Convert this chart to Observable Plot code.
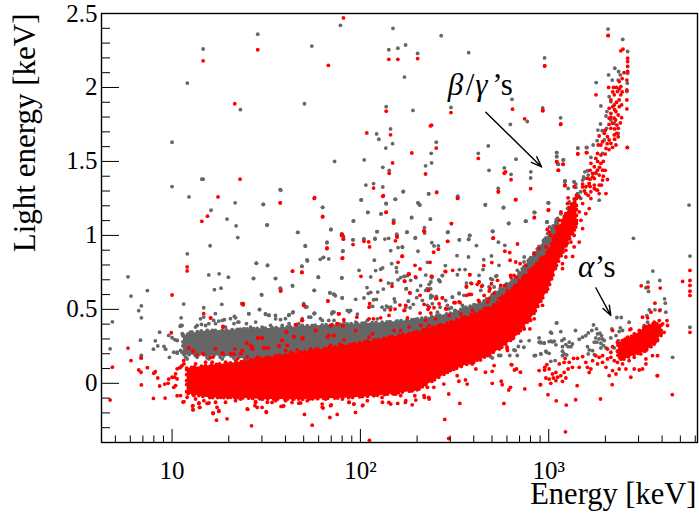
<!DOCTYPE html>
<html><head><meta charset="utf-8">
<script src="https://cdn.jsdelivr.net/npm/d3@7"></script>
<script src="https://cdn.jsdelivr.net/npm/@observablehq/plot@0.6"></script>
<style>html,body{margin:0;padding:0;background:#fff}svg{display:block}</style>
</head><body><div id="chart"></div>
<script>
// every point is [log10(energy / keV), light energy / keV]
const grayScatter = [
[1.894,2.42],[1.455,2.36],[1.165,2.26],[1.742,2.28],[1.081,2.03],[1.703,1.89],[1.363,1.85],[1,1.63],[1.863,1.5],[1,1.33],[1.158,1.38],[1.165,1.38],[1.574,1.31],[1.09,1.26],[1.335,1.22],[1.485,1.21],[1.799,1.19],[1.207,1.17],[1.292,1.11],[1.34,1.065],[1.503,1.07],[1.668,1.02],[1.843,1.04],[1.9,1.01],[1.349,.985],[1.202,.93],[1.081,.875],[1.707,.93],[1.822,.95],[1.908,.895],[1.802,.85],[1.717,.835],
[2.173,2.4],[2.151,2.255],[2.199,2.265],[2.24,2.287],[2.304,2.23],[2.429,2.35],[2.575,2.235],[2.234,2.07],[2.978,2.2],[3.315,2.395],[3.393,2.325],[2.137,1.87],[2.279,1.845],[2.481,1.865],[2.805,1.92],[2.968,1.862],[3.063,1.795],[2.886,1.77],[2.796,1.75],[2.16,1.72],[2.086,1.686],[2.098,1.65],[2.171,1.62],[2.135,1.59],[2.403,1.63],[2.376,1.555],[2.679,1.605],[2.626,1.555],[2.02,1.51],[2.378,1.49],[2.346,1.47],[2.119,1.46],[2.153,1.44],[2.826,1.515],[2.683,1.44],[2.764,1.456],[2.8,1.413],[2.904,1.388],[3.042,1.56],[3.042,1.533],[3.076,1.51],[3.049,1.48],[3.154,1.59],[3.2,1.595],[2.029,1.34],[2.07,1.35],[2.119,1.327],[2.227,1.295],[2.362,1.28],[2.405,1.293],[2.516,1.26],[2.004,1.24],[2.185,1.244],[2.137,1.214],[2.306,1.22],[2.316,1.205],[2.732,1.318],[2.663,1.205],[2.759,1.187],[2.923,1.156],[2.998,1.22],[3.085,1.363],[2.04,1.156],[2.109,1.145],[2.272,1.12],[2.371,1.11],[2.176,1.1],[1.962,1.097],[2.877,1.095],[2.787,1.08],[2.99,1.09],[2.089,1.025],[2.247,1.02],[2.341,1.016],[2.463,1.02],[2.704,1.027],[2.194,1],[2.58,1],[1.96,.97],[2.018,.975],[2.077,.975],[2.13,.975],[2.291,.98],[2.525,.97],[2.575,.973],[3.45,.98],[3.745,1.205],[3.75,.86],
[1.577,1.306],[1.484,1.209],[1.8,1.19],[1.506,1.071],[1.667,1.021],[1.844,1.04],[1.964,1.098],[2.005,1.24],[2.039,1.155],[2.11,1.146],[2.136,1.216],[2.186,1.245],[2.228,1.297],[2.177,1.103],[2.088,1.026],[2.193,1.008],[2.15,.98],[2.078,.979],[2.019,.976],[1.961,.97],[1.91,.994],[1.823,.954],[1.708,.927],[1.906,.893],[2.2,.918],[2.223,.92],[2.161,.897],[1.805,.852],[1.787,.838],[1.832,.841],[1.718,.83],[1.69,.791],[1.447,.811],[1.507,.796],[2.074,.832],[2.166,.809],[2.191,.782],[2.193,.753],[2.118,.78],[2.108,.771],[2.081,.762],[1.993,.764],[2.055,.719],[1.777,.717],[1.901,.712],[1.433,.71],[1.55,.71],[2.2,.7],[2.234,.723],[2.25,.728],[2.149,.678],[2.168,.674],[2.035,.647],[2.244,.64],[1.577,.64],[1.64,.658],[1.755,.628],[2.122,.637],[2.042,.608],[2.055,.615],[2.092,.617],[1.839,.61],[1.86,.601],[1.867,.592],[1.476,.597],[1.904,.577],[1.975,.568],[2.019,.577],[2.07,.565],[2.085,.567],[2.18,.57],[2.184,.55],[2.255,.556],[1.378,.538],[1.699,.538],[1.716,.516],[1.465,.5],[1.408,.47],[1.497,.466],[1.515,.461],[1.621,.464],[1.64,.477],[1.757,.473],[1.848,.47],[1.858,.48],[1.94,.484],[1.948,.493],[1.984,.468],[2.065,.52],[2.115,.515],[2.138,.522],[2.145,.515],[2.161,.515],[2.129,.497],
[2.363,1.283],[2.306,1.22],[2.313,1.207],[2.272,1.121],[2.372,1.11],[2.517,1.265],[2.664,1.207],[2.761,1.189],[3,1.22],[2.924,1.155],[2.992,1.091],[2.878,1.096],[2.788,1.082],[2.34,1.053],[2.248,1.024],[2.466,1.024],[2.292,.985],[2.581,1],[2.575,.974],[2.526,.97],[2.701,1.028],[2.733,.954],[2.767,.933],[2.616,.931],[2.379,.951],[2.391,.929],[2.414,.929],[2.223,.922],[2.306,.893],[2.513,.863],[2.574,.854],[2.696,.861],[2.655,.836],[2.356,.818],[2.451,.796],[2.736,.798],[2.526,.769],[2.556,.769],[2.651,.769],[2.256,.741],[2.232,.723],[2.214,.714],[2.347,.732],[2.435,.728],[2.581,.735],[2.295,.714],[2.267,.696],[2.379,.714],[2.365,.669],[2.32,.66],[2.416,.7],[2.423,.687],[2.724,.728],[2.701,.701],[2.242,.638],[2.303,.628],[2.347,.628],[2.373,.64],[2.382,.588],[2.373,.577],[2.403,.588],[2.255,.556],[2.299,.579],[2.329,.561],[2.488,.583],[2.524,.606],[2.55,.595],[2.281,.534],[2.264,.511],[2.241,.515],[2.356,.527],[2.382,.538],[2.423,.515],[2.462,.527],[2.483,.511],[2.542,.527],[2.501,.493],[2.621,.527],[2.657,.538],[2.692,.583],[2.728,.583],[2.745,.595],[2.639,.628],[2.71,.651],[2.683,.651],[2.834,.764],[2.869,.82],[2.896,.836],[2.922,.877],[2.958,.911],[2.976,.945],[3.046,1.08],[3.064,1.148],[3.1,1.182],
[.766,.72],[.782,.59],[.869,.627],[.837,.523],[.823,.491],[.837,.443],[.683,.416],[.671,.233],[.832,.292],[.911,.287],[.924,.253],[.901,.231],[.837,.188],[.837,.172],[.934,.346],[.957,.249],[.966,.231],[.986,.176],[.982,.324],[1,.308],[1.014,.296],[1.027,.29],[1.009,.21],[1.027,.204],[1.053,.21],[1.048,.443],[1.062,.536],[1.053,.391],[1.044,.385],[1.058,.33],[1.195,.733],[1.25,.74],[1.299,.717],[1.225,.633],[1.26,.643],[1.168,.511],[1.264,.534],[1.37,.538],[1.448,.812],[1.507,.799],[1.432,.708],[1.549,.708],[1.574,.643],[1.639,.661],[1.475,.6],[1.755,.629],[1.776,.717],[1.902,.713],[1.838,.613],[1.859,.602],[1.903,.577],[1.719,.828],[1.689,.792],[1.464,.498],[1.407,.471],[1.23,.471],[1.168,.448],[1.337,.443],[1.708,.516],
[1.097,.346],[1.133,.391],[1.156,.398],[1.195,.403],[1.221,.425],[1.248,.421],[1.278,.43],[1.31,.437],[1.331,.452],[1.349,.414],[1.395,.403],[1.434,.369],[1.478,.38],[1.496,.471],[1.514,.459],[1.549,.459],[1.576,.43],[1.602,.437],[1.62,.459],[1.643,.482],[1.673,.403],[1.691,.437],[1.726,.448],[1.756,.475],[1.788,.437],[1.832,.425],[1.859,.482],[1.939,.489],[1.08,.165],[1.133,.176],[1.186,.172],[1.257,.176],[1.328,.172],[1.398,.154],
[2.691,.181],[2.735,.188],[2.779,.233],[2.815,.226],[2.833,.188],[2.868,.244],[2.93,.188],[2.957,.278],[3.041,.407],[3.01,.346]
];
const grayEdges = [
[1.045,.391],[1.027,.29],[1.054,.335],[1.089,.323],[1.125,.38],[1.151,.436],[1.178,.391],[1.205,.346],[1.231,.403],[1.267,.425],[1.284,.38],[1.329,.403],[1.355,.414],[1.382,.369],[1.417,.38],[1.444,.414],[1.479,.369],[1.523,.391],[1.55,.436],[1.585,.391],[1.621,.403],[1.656,.357],[1.692,.391],[1.072,.29],[1.107,.346],[1.187,.357],[1.249,.346],[1.346,.346],[1.391,.335],[1.461,.335],[1.506,.346],[1.55,.346],[1.603,.346],[1.045,.222],[1.027,.211],[1.125,.188],[1.072,.177],[1.196,.165],[1.267,.165],[1.337,.154],[1.408,.188],[1.479,.165],
[1.754,.47],[1.736,.447],[1.798,.425],[1.851,.481],[1.931,.493],[1.86,.425],[1.913,.414],[1.975,.414],[2.037,.425],[2.09,.436],[1.701,.368],[1.745,.38],[1.789,.357],[1.834,.38],[1.896,.357],[1.949,.368],[2.011,.38],[2.064,.346],[2.126,.402],[2.188,.414],[2.25,.425],[2.303,.436],[1.683,.289],[1.727,.3],[1.772,.3],[1.869,.323],[1.931,.335],[2.002,.323],[2.09,.368],[2.152,.368],[2.214,.38],[2.294,.368],[2.356,.425],[1.718,.267],[1.807,.267],[1.913,.244],
[2.515,.734],[2.436,.73],[2.418,.696],[2.374,.685],[2.356,.64],[2.524,.61],[2.563,.678],[2.586,.678],[2.63,.73],[2.648,.662],[2.692,.707],[2.719,.723],[2.489,.583],[2.374,.594],[2.453,.56],[2.56,.515],[2.613,.527],[2.409,.481],[2.471,.504],[2.506,.481],[2.374,.425],[2.418,.391],[2.498,.425],[2.577,.493],[2.657,.549],[2.701,.583],[2.772,.651],[2.843,.741],
[2.896,.289],[2.852,.285],[2.839,.249],[2.822,.222],[2.793,.188],[2.745,.188],[2.701,.172],[2.604,.195],[2.949,.278],[2.976,.271],[2.958,.199],[2.988,.21],[3.011,.149],[3.034,.154],[3.029,.285],[3.011,.285],
[2.905,1.43],[2.997,1.22],[2.926,1.154],[2.879,1.096],[2.99,1.091],[3.086,1.369],[3.086,1.339],[3.135,1.362],[3.144,1.324],[3.109,1.226],[3.135,1.215],[3.153,1.283],[3.047,1.102],[3.065,1.147],[3.038,1.091],[3.003,1.057],[2.994,1.012],[2.976,.971],[2.949,.922],[2.923,.876],[2.905,.831],[2.87,.854],[3.188,1.385],[3.25,1.423],[3.268,1.238]
];
const grayTopBand = [
[3.419,2.243],[3.351,2.13],[3.371,2.108],[3.38,2.085],[3.318,2.085],[3.337,2.05],[3.252,2.033],[3.369,2.05],[3.419,2.096],[3.417,2.029],[3.415,1.972],[3.321,1.938],[3.33,1.904],[3.277,1.875],[3.309,1.837],[3.304,1.807],[3.33,1.78],[3.348,1.758],[3.275,1.753],[3.261,1.712],[3.284,1.708],[3.307,1.724],[3.369,1.69],[3.257,1.64],[3.295,1.645],[3.236,1.611],[3.203,1.593],[3.155,1.59],[3.286,1.554],[3.224,1.527],[3.079,1.511],[3.043,1.559],[3.043,1.532],[3.052,1.482],[3.087,1.369],[3.103,1.317],[3.135,1.362],[3.144,1.347],[3.192,1.43],[3.206,1.437],[3.185,1.396],[3.21,1.408],[3.18,1.374],[3.17,1.295],[3.158,1.268],[3.17,1.25]
];
const grayAlpha = [
[3.553,.759],[3.59,.695],[3.527,.684],[3.516,.646],[3.53,.621],[3.615,.571],[3.619,.542],[3.622,.481],[3.592,.497],[3.564,.497],[3.534,.497],[3.521,.458],[3.362,.445],[3.385,.445],[3.427,.413],[3.043,.409],[3.238,.395],[3.254,.368],[3.229,.357],[3.335,.368],[3.38,.375],[3.392,.357],[3.374,.35],[3.142,.357],[3.064,.35],[3.015,.339],[3.21,.341],[3.197,.323],[3.18,.312],[3.162,.298],[3.082,.3],[3.07,.289],[2.949,.307],[2.958,.273],[2.976,.273],[3.002,.282],[3.02,.28],[3.038,.26],[3.109,.278],[3.126,.266],[3.103,.248],[3.118,.248],[3.073,.248],[3.091,.262],[2.985,.217],[3.002,.203],[2.958,.199],[3.073,.217],[3.082,.199],[3.096,.192],[3.073,.187],[2.923,.187],[3.658,.176],[3.75,.379],
[3.259,.334],[3.272,.339],[3.28,.323],[3.25,.307],[3.268,.3],[3.286,.3],[3.256,.278],[3.277,.271],[3.295,.289],[3.242,.278],[3.206,.248],[3.215,.226],[3.21,.199],[3.233,.221],[3.242,.194],[3.277,.239],[3.291,.255],[3.304,.239],[3.33,.307],[3.357,.323],[3.369,.289],[3.401,.255],[3.348,.239],[3.383,.248],[3.436,.289],[3.472,.312],[3.507,.391],[3.525,.413]
];
const redScatter = [
[1.91,2.47],[1.455,2.255],[1.165,2.18],[1.83,2.15],[1.333,1.89],[1.361,1.38],[1.244,1.26],[1.755,1.25],[1.574,1.22],[1.799,1.125],[1.188,1.13],[1.158,1.095],[1.9,1],[1.908,.975],[1.822,.91],[1.903,.845],
[2.151,2.19],[2.199,2.19],[2.304,2.195],[2.978,2.145],[3.315,2.35],[2.137,1.84],[2.481,1.83],[2.808,1.853],[2.968,1.842],[2.872,1.788],[3.063,1.75],[2.378,1.745],[2.372,1.74],[2.034,1.693],[2.16,1.68],[2.403,1.59],[2.273,1.557],[2.626,1.52],[3.154,1.55],[3.2,1.56],[3.418,1.594],[3.251,1.95],[2.171,1.49],[2.153,1.42],[2.346,1.415],[2.771,1.43],[2.764,1.42],[2.8,1.377],[2.904,1.316],[3.042,1.497],[3.076,1.48],[3.05,1.44],[2.07,1.32],[2.119,1.264],[2.405,1.29],[2.516,1.25],[2.732,1.293],[2.824,1.24],[3.085,1.336],[2.998,1.17],[2.137,1.156],[2.923,1.12],[2.176,1.083],[2.484,1.08],[2.337,1.03],[2.194,.99],[2.463,.96],[2.704,.98],
[1.575,1.22],[1.757,1.256],[2.122,1.268],[1.8,1.128],[2.136,1.157],[2.177,1.087],[1.904,1.006],[1.911,.976],[1.961,.938],[2.019,.96],[2.044,.956],[2.049,.922],[2.186,.963],[2.195,.99],[1.823,.915],[1.906,.848],[2.221,.859],[2.2,.818],[1.64,.759],[1.69,.75],[2.003,.723],[2.108,.696],[2.235,.69],[2.258,.739],[2.168,.656],[2.262,.613],[1.577,.626],[1.828,.556],[1.378,.531],[1.699,.527],[2.049,.538],[2.046,.515],[1.885,.47],[2.159,.497],[2.184,.502],[2.21,.529],[2.235,.493],
[2.517,1.252],[2.733,1.297],[2.825,1.243],[2.999,1.173],[2.924,1.121],[2.483,1.08],[2.34,1.028],[2.706,.983],[2.464,.96],[2.389,.886],[2.414,.906],[2.223,.859],[2.29,.798],[2.317,.773],[2.37,.818],[2.49,.764],[2.453,.755],[2.698,.816],[2.655,.796],[2.834,.942],[2.767,.893],[2.793,.884],[2.795,.832],[2.825,.82],[2.848,.809],[2.992,1.04],[2.38,.723],[2.258,.737],[2.235,.69],[2.292,.719],[2.591,.674],[2.63,.685],[2.621,.669],[2.563,.651],[2.644,.656],[2.689,.64],[2.745,.662],[2.264,.61],[2.317,.595],[2.361,.628],[2.405,.574],[2.435,.577],[2.565,.595],[2.589,.601],[2.497,.545],[2.524,.55],[2.338,.534],[2.391,.511],[2.359,.5],[2.241,.527],[2.232,.493],[2.457,.502],[2.627,.561],[2.683,.572],[2.816,.73],[2.798,.73],
[.671,-.113],[.766,.238],[.683,.109],[.782,.154],[.835,.172],[.823,.09],[.835,.075],[.837,-.011],[.869,.106],[.911,.079],[.903,.068],[.924,.036],[.934,-.018],[.901,-.102],[.961,-.005],[.979,0],[.963,-.1],[.982,.029],[1,.041],[1.014,.041],[1.009,-.027],[1.027,-.084],[.996,.342],[1,.597],[1.08,.787],[1.08,.76],[1.168,.471],[1.204,.443],[1.271,.385],[1.375,.538],[1.089,.24],[1.112,.217],[1.053,.12],[1.039,.104],[1.062,.154],[1.058,-.127],[1.108,-.154],[1.112,-.179],[1.142,-.136],[1.147,-.163],[1.186,-.136],[1.218,-.204],[1.239,-.163],[1.248,-.19],[1.236,-.249],[1.292,-.24],[1.402,-.176],[1.422,-.287],[1.443,-.129],[1.452,-.163],[1.478,-.163],[1.501,-.197],[1.531,-.129],[1.579,-.156],[1.593,-.152],[1.637,-.129],[1.673,-.134],[1.703,-.21],[1.744,-.283],[1.797,-.14],[1.802,-.167],[1.838,-.231],[1.877,-.21],[1.845,-.145],[1.939,-.129],
[1.576,.624],[1.639,.758],[1.689,.751],[1.827,.557],[1.7,.527],[1.884,.471],[1.689,.425],[1.655,.396],[1.912,.43],[1.909,.391],[1.395,.271],[1.455,.308],[1.478,.308],[1.607,.351],[1.584,.29],[1.646,.317],[1.691,.305],[1.762,.357],[1.841,.391],[1.877,.403],[1.23,.233],[1.204,.176],[1.168,.195],[1.271,.199],[1.328,.199],[1.372,.222],[1.416,.256],[1.425,.233],[1.487,.238],[1.505,.238],[1.567,.256],[1.611,.256],[1.664,.226],[1.726,.21],[1.77,.233],[1.832,.324],[1.859,.324],
[1.974,-.197],[2.048,-.385],[2.448,-.244],[2.469,-.373],[2.528,-.136],[2.34,-.095],[2.363,-.095],[2.275,-.145],[2.289,-.084],[2.239,-.129],[2.198,-.136],[2.151,-.129],[2.115,-.095],[2.013,-.147],[1.965,-.14],[2.036,-.084],[2.177,-.072],[2.284,-.038],[2.39,-.027],[2.443,-.005],[2.469,-.072],[2.514,.052],[2.558,.023],[2.567,-.005],[2.523,.014],[2.664,.075],[2.7,.081],[2.7,0],[2.748,.014],[2.753,-.009],[2.801,.127],[2.818,.09],[2.85,.075],[2.797,-.027],[2.788,-.045],[2.873,-.038],[2.762,-.136],[2.957,-.009],[2.978,.09],[2.996,-.077],[3.04,-.118],[3.093,-.147],[3.089,-.328],[3.143,-.111],[3.151,-.016],[3.275,-.106],[3.337,-.009],[3.656,-.077],[3.576,.052],
[2.478,.086],[2.602,.143],[2.638,.158],[2.709,.222],[2.779,.244],[2.868,.369],[2.903,.425],[2.93,.538],[2.965,.629],[3.01,.742]
];
const redEdges = [
[1.887,.47],[1.692,.425],[1.981,.447],[2.046,.436],[2.069,.436],[2.108,.443],[2.152,.459],[2.25,.443],[2.317,.475],[1.878,.402],[1.904,.391],[1.846,.391],[1.975,.357],[1.763,.357],[1.692,.301],[1.825,.312],[1.86,.323],[1.913,.294],[1.892,.267],[1.958,.256],[2.011,.267],[2.046,.312],[2.064,.334],[2.135,.301],[2.108,.256],[2.179,.357],[2.214,.357],[2.259,.38],[2.321,.391],[2.365,.391],[1.736,.233],[1.772,.222],[1.842,.256],[1.869,.199],[1.922,.21],[1.984,.222],[2.055,.233],[2.126,.244],[2.197,.289],[2.268,.323],[2.338,.334],
[1.692,-.106],[1.718,-.117],[1.763,-.095],[1.798,-.162],[1.816,-.106],[1.842,-.151],[1.878,-.083],[1.904,-.106],[1.94,-.128],[1.966,-.14],[2.011,-.151],[2.037,-.117],[2.073,-.083],[2.117,-.128],[2.161,-.14],[2.214,-.083],[2.241,-.117],[2.294,-.113],[2.338,-.083],[2.365,-.106],[1.736,-.072],[1.78,-.061],[1.86,-.061],[1.949,-.072],[1.993,-.083],[2.055,-.061],[2.143,-.049],[2.188,-.072],[2.267,-.049],[2.312,-.038],[2.356,-.027],
[1.045,.109],[1.089,.24],[1.111,.217],[1.132,.193],[1.164,.2],[1.063,.132],[1.125,.132],[1.178,.143],[1.231,.233],[1.217,.177],[1.267,.206],[1.311,.2],[1.334,.233],[1.364,.2],[1.396,.274],[1.422,.251],[1.429,.233],[1.456,.305],[1.479,.305],[1.488,.24],[1.511,.24],[1.568,.251],[1.585,.29],[1.608,.346],[1.612,.256],[1.647,.312],[1.695,.305],[1.66,.396],[1.692,.425],[1.27,.38],[1.205,.441],[1.603,.222],[1.63,.211],[1.674,.2],[1.284,.143],[1.346,.165],[1.399,.177],[1.453,.177],[1.497,.165],[1.55,.188],[1.417,.154],[1.213,.143],
[1.019,-.015],[1.027,.03],[1.045,-.083],[1.063,-.124],[1.08,-.094],[1.116,-.083],[1.111,-.151],[1.111,-.178],[1.125,-.106],[1.143,-.133],[1.146,-.162],[1.169,-.117],[1.196,-.133],[1.231,-.128],[1.217,-.2],[1.249,-.185],[1.258,-.094],[1.284,-.128],[1.311,-.094],[1.337,-.117],[1.364,-.106],[1.399,-.173],[1.44,-.151],[1.444,-.124],[1.479,-.106],[1.5,-.191],[1.506,-.128],[1.55,-.117],[1.589,-.155],[1.603,-.117],[1.647,-.106],[1.683,-.133],[1.7,-.094],[1.027,.098],[1.019,.064],
[2.377,.723],[2.45,.757],[2.581,.734],[2.63,.685],[2.563,.655],[2.696,.673],[2.728,.696],[2.769,.662],[2.799,.718],[2.829,.718],[2.684,.624],[2.657,.594],[2.577,.601],[2.4,.572],[2.436,.578],[2.503,.545],[2.529,.545],[2.63,.556],[2.675,.549],[2.71,.61],[2.754,.588],[2.737,.572],[2.781,.628],[2.822,.655],[2.861,.696],[2.365,.515],[2.453,.504],[2.418,.538],[2.374,.475],[2.347,.425],[2.4,.436],[2.471,.459],[2.533,.47],[2.595,.493],[2.657,.504],[2.71,.527],[2.772,.56],[2.807,.605],
[2.595,.131],[2.675,.188],[2.781,.222],[2.807,.301],[2.804,.125],[2.829,.097],[2.87,.368],[2.9,.368],[2.923,.436],[2.967,.527],[2.71,.12],[2.613,.097]
];
const redTopBand = [
[3.316,2.352],[3.383,2.248],[3.394,2.259],[3.419,2.198],[3.419,2.175],[3.419,2.142],[3.419,2.108],[3.415,2.05],[3.415,1.983],[3.415,1.916],[3.415,1.855],[2.979,2.146],[2.969,1.846],[3.064,1.753],[3.318,2],[3.344,2],
[3.374,2.04],[3.383,2.006],[3.365,1.972],[3.383,1.95],[3.348,1.95],[3.33,1.916],[3.374,1.916],[3.387,1.882],[3.348,1.882],[3.321,1.859],[3.357,1.837],[3.33,1.825],[3.369,1.814],[3.348,1.792],[3.387,1.796],[3.321,1.792],[3.339,1.758],[3.362,1.746],[3.369,1.724],[3.33,1.724],[3.268,1.672],[3.295,1.69],[3.312,1.667],[3.348,1.679],[3.369,1.667],[3.286,1.633],[3.321,1.645],[3.357,1.611],[3.339,1.595],[3.33,1.622],[3.277,1.611],[3.304,1.588],[3.263,1.611],[3.259,1.554],[3.277,1.543],[3.25,1.52],[3.224,1.487],[3.242,1.464],[3.277,1.487],[3.259,1.441],[3.286,1.441],[3.268,1.408],[3.233,1.419],[3.206,1.385],[3.242,1.385],[3.286,1.374],[3.268,1.34],[3.215,1.351],[3.242,1.34],[3.197,1.329],[3.259,1.306],[3.224,1.295],[3.304,1.283],[3.312,1.378],[3.28,1.34],[3.135,1.329],[3.087,1.34],[3.103,1.254],[3.18,1.347],[3.043,1.498],[3.077,1.482],[3.052,1.441],[3.417,1.595],[3.155,1.552],[3.203,1.559],
[3.34,1.97],[3.36,2],[3.375,1.99],[3.39,2.06],[3.4,2.1],[3.39,1.97],[3.36,1.9],[3.35,1.85],[3.375,1.87],[3.34,1.87],[3.33,1.8],[3.355,1.78],[3.38,1.76],[3.32,1.75],[3.35,1.72],[3.3,1.71],[3.31,1.62],[3.35,1.65],[3.36,1.69],[3.3,1.55],[3.32,1.58],[3.29,1.5],[3.26,1.5],[3.27,1.46],[3.25,1.42],[3.22,1.44],[3.3,1.44],[3.29,1.4],[3.22,1.38],[3.25,1.31],[3.22,1.33],[3.21,1.27],[3.19,1.3],
[3.233,1.396],[3.215,1.339],[3.242,1.317],[3.18,1.328],[3.162,1.26],[3.197,1.283],[3.224,1.249],[3.268,1.283],[3.144,1.204],[3.18,1.215],[3.215,1.181],[3.162,1.159],[3.118,1.17],[3.197,1.147],[3.1,1.215],[3.135,1.125],[3.171,1.102],[3.082,1.114],[3.118,1.091],[3.073,1.046],[3.144,1.057],[3.109,1.023],[3.18,1.046],[3.038,1.057],[3.056,1.012],[3.091,.989],[3.135,1],[3.029,.978],[3.011,1],[3.003,1.023],[3.065,.955],[3.118,.955],[3.162,.955],[2.985,.922],[3.029,.91],[3.091,.899],[3.135,.922],[2.949,.91],[2.994,.876],[3.047,.865],[3.091,.854],[3.127,.858],[2.923,.876],[2.958,.842],[3.011,.831],[3.073,.809],[2.879,.797],[2.932,.797],[2.976,.775],[3.029,.775],[3.073,.775],[2.896,.763],[3.109,1.012],[3.056,1.102],[3.065,1.159]
];
const redAlpha = [
[3.491,.659],[3.527,.65],[3.592,.644],[3.711,.689],[3.75,.695],[3.75,.662],[3.75,.623],[3.75,.594],[3.75,.763],[3.75,.345],[3.564,.542],[3.589,.492],[3.543,.481],[3.498,.447],[3.525,.443],[3.628,.424],[3.631,.391],[3.431,.363],[3.339,.357],
[2.949,.086],[2.979,.108],[2.99,.126],[3.002,.097],[3.02,.063],[3.038,.074],[3.056,.131],[3.082,.142],[3.087,.169],[3.109,.142],[3.126,.108],[3.132,.169],[3.103,.097],[3.082,.074],[3.064,.052],[3.047,.041],[3.025,.036],[3.002,.029],[2.985,.036],[3.038,.018],[3.073,.013],[3.091,.036],[3.011,0],[2.955,-.009],[3.153,.169],[3.18,.181],[3.162,.108],[3.197,.142],[3.206,.108],[3.224,.097],[3.215,.074],[3.25,.187],[3.268,.176],[3.233,.153],[3.259,.131],[3.286,.142],[3.312,.165],[3.33,.176],[3.348,.153],[3.304,.108],[3.339,.086],[3.365,.142],[3.374,.097],[3.392,.131],[3.41,.097],[3.427,.153],[3.454,.097],[3.481,.09],[3.498,.097],[3.516,.131],[3.436,.041],[3.578,.052],[3.357,.063],[3.321,.052],[3.286,.187],[3.516,.165],[3.551,.187],[3.578,.187],[3.454,.176],
[3.312,.232],[3.339,.248],[3.365,.278],[3.392,.289],[3.419,.312],[3.436,.368],[3.454,.334],[3.481,.357],[3.507,.379],[3.534,.391],[3.56,.413],[3.587,.424],[3.605,.402],[3.613,.345],[3.596,.323],[3.578,.289],[3.56,.266],[3.543,.248],[3.516,.221],[3.489,.199],[3.463,.221],[3.436,.199],[3.41,.187],[3.392,.21],[3.365,.217],[3.33,.21],[3.445,.266]
];
// outlines of the saturated regions: [log10(energy), lower, upper]
const grayBand = [[1.06,.19,.32],[1.15,.19,.35],[1.328,.18,.36],[1.505,.13,.37],[1.77,.15,.39],[1.947,.2,.4],[2.125,.25,.41],[2.3,.3,.43],[2.478,.35,.47],[2.655,.45,.55],[2.832,.6,.72],[2.92,.72,.87],[3,.85,1],[3.05,1,1.12]];
const redBand = [[1.08,-.07,.1],[1.2,-.1,.12],[1.35,-.1,.14],[1.5,-.11,.17],[1.7,-.11,.21],[1.947,-.1,.26],[2.125,-.08,.3],[2.3,-.05,.345],[2.478,.08,.41],[2.655,.17,.49],[2.743,.23,.55],[2.832,.32,.67],[2.92,.46,.78],[3,.64,.89],[3.046,.8,1.03],[3.1,.94,1.16],[3.15,1.06,1.27]];
const alphaCore = [[3.37,.16,.27],[3.4,.16,.29],[3.453,.19,.32],[3.506,.21,.37],[3.559,.26,.4],[3.6,.33,.4]];
const minorX = [5,6,7,8,9,20,30,40,50,60,70,80,90,200,300,400,500,600,700,800,900,2000,3000,4000,5000,6000];
const majorX = [10,100,1000];
const xLabels = {10:"10",100:"10²",1000:"10³"};
const majorY = [0,.5,1,1.5,2,2.5];
const minorY = [-.3,-.2,-.1,.1,.2,.3,.4,.6,.7,.8,.9,1.1,1.2,1.3,1.4,1.6,1.7,1.8,1.9,2.1,2.2,2.3,2.4];
const betaArrow = [[2.666,1.832,2.962,1.463]];
const alphaArrow = [[3.25,.646,3.33,.458]];

const gray = [...grayScatter,...grayEdges,...grayTopBand,...grayAlpha];
const red = [...redScatter,...redEdges,...redTopBand,...redAlpha];
const E = d => 10 ** d[0];
const serif = "'Liberation Serif','Times New Roman',serif";
const label = (text,lx,y,style="normal",size=31) => Plot.text([text],{x:()=>10**lx,y:()=>y,text:d=>d,fontSize:size,fontStyle:style,fontFamily:serif,textAnchor:"start",lineAnchor:"bottom",fill:"#000"});
const dot = (data,fill) => Plot.dot(data,{x:E,y:d=>d[1],r:1.9,fill,stroke:"none"});
// the dashed round stroke gives the saturated regions the speckled edge of a dot cloud
const band = (data,fill) => Plot.areaY(data,{x:E,y1:d=>d[1],y2:d=>d[2],fill,stroke:fill,strokeWidth:3.8,strokeLinecap:"round",strokeDasharray:"0 5 0 3 0 7 0 4 0 6"});
const arrow = data => Plot.arrow(data,{x1:d=>10**d[0],y1:d=>d[1],x2:d=>10**d[2],y2:d=>d[3],stroke:"#000",strokeWidth:1.4,headLength:12,headAngle:40,bend:0,inset:0});

const chart = Plot.plot({
  width:699,height:514,marginLeft:101,marginRight:2,marginTop:13,marginBottom:72,
  style:{fontFamily:serif,background:"#fff",color:"#000"},
  x:{type:"log",domain:[4.22,6166]},
  y:{domain:[-.4,2.5]},
  marks:[
    band(grayBand,"#666"),
    dot(gray,"#666"),
    band(redBand,"#f00"),
    band(alphaCore,"#f00"),
    dot(red,"#f00"),
    Plot.axisX({ticks:minorX,tickSize:-6.5,tickFormat:()=>"",label:null,strokeWidth:1}),
    Plot.axisX({ticks:majorX,tickSize:-13,tickPadding:18+14,tickFormat:d=>xLabels[d],label:null,fontSize:25,strokeWidth:1}),
    Plot.axisY({ticks:minorY,tickSize:-9,tickFormat:()=>"",label:null,strokeWidth:1}),
    Plot.axisY({ticks:majorY,tickSize:-18,tickPadding:18+4,tickFormat:d=>String(d),label:null,fontSize:25,strokeWidth:1}),
    Plot.frame({stroke:"#000",strokeWidth:1.4}),
    arrow(betaArrow),arrow(alphaArrow),
    label("β",2.464,1.95,"italic"),label("/",2.56,1.95),label("γ",2.61,1.95,"italic"),label("’s",2.7,1.95),
    label("α",3.155,.717,"italic"),label("’s",3.245,.717),
    Plot.text(["Energy [keV]"],{frameAnchor:"bottom-right",text:d=>d,fontSize:30.5,fontFamily:serif,dy:61,dx:-1,fill:"#000"}),
    Plot.text(["Light energy [keV]"],{frameAnchor:"top-left",text:d=>d,fontSize:31,fontFamily:serif,rotate:-90,textAnchor:"end",dx:-89,dy:0,fill:"#000"})
  ]
});
document.getElementById("chart").append(chart);
</script></body></html>
